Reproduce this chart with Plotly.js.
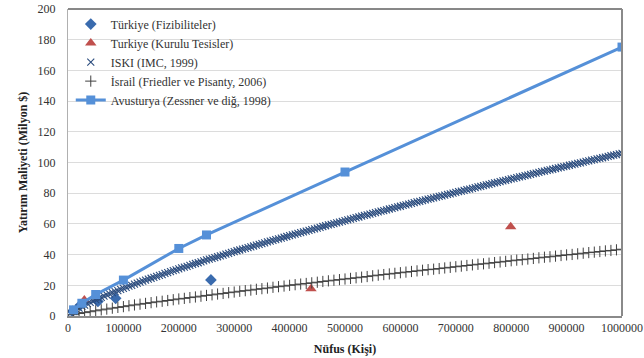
<!DOCTYPE html>
<html>
<head>
<meta charset="utf-8">
<script src="https://cdn.plot.ly/plotly-3.0.1.min.js"></script>
<style>html,body{margin:0;padding:0;background:#fff;}#chart{width:644px;height:358px;}</style>
</head>
<body>
<div id="chart"></div>
<script>
// Türkiye (Fizibiliteler)
const fizX = [8000, 22000, 54000, 86000, 258000];
const fizY = [3, 7, 9.5, 11.5, 23.5];
// Turkiye (Kurulu Tesisler)
const kuruluX = [29500, 438600, 799100];
const kuruluY = [10.4, 17.8, 58.2];
// ISKI (IMC, 1999): population step 5000, starting at 5000
const iskiStart = 5000, iskiStep = 5000;
const iskiY = [
1.8,3.1,4.2,5.2,6.2,7.1,8.0,8.9,9.7,10.6,
11.4,12.1,12.9,13.7,14.4,15.2,15.9,16.6,17.3,18.0,
18.7,19.4,20.0,20.7,21.4,22.0,22.7,23.3,24.0,24.6,
25.2,25.8,26.4,27.0,27.7,28.3,28.9,29.5,30.1,30.7,
31.3,31.9,32.4,33.0,33.6,34.2,34.7,35.3,35.9,36.5,
37.0,37.5,38.1,38.6,39.2,39.7,40.3,40.8,41.4,42.0,
42.5,43.0,43.5,44.1,44.6,45.1,45.6,46.2,46.7,47.2,
47.7,48.3,48.8,49.3,49.8,50.3,50.8,51.3,51.8,52.3,
52.8,53.3,53.8,54.3,54.8,55.3,55.8,56.3,56.8,57.3,
57.8,58.3,58.8,59.3,59.7,60.2,60.7,61.2,61.7,62.2,
62.6,63.1,63.6,64.1,64.5,65.0,65.5,65.9,66.4,66.9,
67.4,67.8,68.3,68.7,69.2,69.7,70.1,70.6,71.1,71.5,
72.0,72.4,72.9,73.3,73.8,74.3,74.7,75.2,75.6,76.1,
76.5,77.0,77.4,77.9,78.3,78.8,79.2,79.6,80.1,80.5,
81.0,81.4,81.9,82.3,82.7,83.2,83.6,84.1,84.5,84.9,
85.4,85.8,86.2,86.7,87.1,87.5,88.0,88.4,88.8,89.3,
89.7,90.1,90.6,91.0,91.4,91.8,92.3,92.7,93.1,93.5,
94.0,94.4,94.8,95.2,95.6,96.1,96.5,96.9,97.3,97.7,
98.2,98.6,99.0,99.4,99.8,100.2,100.7,101.1,101.5,101.9,
102.3,102.7,103.1,103.5,104.0,104.4,104.8,105.2,105.6,106.0
];
// İsrail (Friedler ve Pisanty, 2006): population step 10000, starting at 10000
const israilStart = 10000, israilStep = 10000;
const israilY = [
0.9,1.6,2.2,2.8,3.4,4.0,4.5,5.1,5.6,6.1,
6.7,7.2,7.7,8.2,8.7,9.2,9.6,10.1,10.6,11.1,
11.5,12.0,12.4,12.9,13.4,13.8,14.3,14.7,15.2,15.6,
16.1,16.5,16.9,17.4,17.8,18.2,18.7,19.1,19.5,20.0,
20.4,20.8,21.2,21.6,22.0,22.5,22.9,23.3,23.7,24.1,
24.5,24.9,25.3,25.7,26.2,26.6,27.0,27.4,27.8,28.2,
28.6,29.0,29.4,29.8,30.2,30.5,30.9,31.3,31.7,32.1,
32.5,32.9,33.3,33.7,34.0,34.4,34.8,35.2,35.6,36.0,
36.4,36.7,37.1,37.5,37.9,38.3,38.6,39.0,39.4,39.8,
40.1,40.5,40.9,41.3,41.6,42.0,42.4,42.7,43.1,43.5
];
// Avusturya (Zessner ve diğ, 1998)
const avusX = [10000, 25000, 50000, 100000, 200000, 250000, 500000, 1000000];
const avusY = [4, 8.3, 14, 23.4, 44, 52.8, 93.8, 175.2];

const seriesNames = [
  "Türkiye (Fizibiliteler)",
  "Turkiye (Kurulu Tesisler)",
  "ISKI (IMC, 1999)",
  "İsrail (Friedler ve Pisanty, 2006)",
  "Avusturya (Zessner ve diğ, 1998)"
];

const serif = "'Liberation Serif', 'Times New Roman', serif";

const traces = [
  {x: fizX, y: fizY, name: seriesNames[0], type: "scatter", mode: "markers",
   marker: {symbol: "diamond", size: 9, color: "#3A6BAE"}},
  {x: kuruluX, y: kuruluY, name: seriesNames[1], type: "scatter", mode: "markers",
   marker: {symbol: "triangle-up", size: 10, color: "#C0504D"}},
  {x0: iskiStart, dx: iskiStep, y: iskiY, name: seriesNames[2], type: "scatter", mode: "markers",
   marker: {symbol: "x-thin-open", size: 7, color: "#2B4C7E", line: {width: 1.1, color: "#2B4C7E"}}},
  {x0: israilStart, dx: israilStep, y: israilY, name: seriesNames[3], type: "scatter", mode: "markers",
   marker: {symbol: "cross-thin-open", size: 8, color: "#404040", line: {width: 1, color: "#404040"}}},
  {x: avusX, y: avusY, name: seriesNames[4], type: "scatter", mode: "lines+markers",
   line: {color: "#5590D8", width: 3},
   marker: {symbol: "square", size: 9, color: "#5590D8"}}
];

const layout = {
  width: 644, height: 358,
  margin: {l: 68, r: 22, t: 9, b: 42},
  paper_bgcolor: "#fff", plot_bgcolor: "#fff",
  font: {family: serif, size: 12, color: "#333"},
  showlegend: true,
  legend: {x: 0.005, y: 0.998, xanchor: "left", yanchor: "top",
           bgcolor: "rgba(0,0,0,0)", font: {family: serif, size: 12, color: "#333"}},
  xaxis: {range: [0, 1000000], dtick: 100000, tick0: 0, tickformat: "d",
          showgrid: false, zeroline: false,
          showline: true, linecolor: "#8a8a8a", linewidth: 2,
          ticks: "", tickfont: {family: serif, size: 12, color: "#333"},
          title: {text: "<b>Nüfus (Kişi)</b>", font: {family: serif, size: 12, color: "#222"}, standoff: 10}},
  yaxis: {range: [0, 200], dtick: 20, tick0: 0,
          showgrid: true, gridcolor: "#dcdcdc", gridwidth: 1, zeroline: false,
          showline: true, linecolor: "#b0b0b0", linewidth: 1,
          ticks: "outside", ticklen: 9, tickcolor: "rgba(0,0,0,0)",
          tickfont: {family: serif, size: 12, color: "#333"},
          title: {text: "<b>Yatırım Maliyeti (Milyon $)</b>", font: {family: serif, size: 12, color: "#222"}, standoff: 7}},
  shapes: [
    {type: "line", xref: "paper", yref: "paper", x0: 0, x1: 1, y0: 1, y1: 1,
     line: {color: "#111", width: 1}},
    {type: "line", xref: "paper", yref: "paper", x0: 1, x1: 1, y0: 0, y1: 1,
     line: {color: "#8a8a8a", width: 2}}
  ]
};

Plotly.newPlot("chart", traces, layout, {displayModeBar: false, staticPlot: true});
</script>
</body>
</html>
